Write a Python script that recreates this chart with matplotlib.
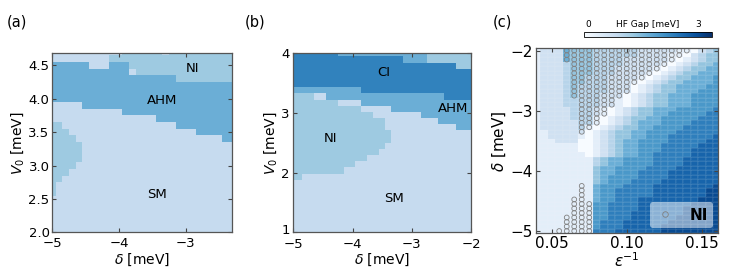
import numpy as np
import matplotlib
matplotlib.use('Agg')
import matplotlib.pyplot as plt
import matplotlib.transforms as mtrans
from matplotlib.colors import ListedColormap, Normalize
from matplotlib.lines import Line2D

# ---------------- data ----------------
# phase codes: S = SM, N = NI, A = AHM, C = CI
phase_names = ['S', 'N', 'A', 'C']
phase_colors = ['#c6dbef', '#9ecae1', '#6baed6', '#3182bd']

# (a) delta = -5.0 .. -2.3 (step 0.1), V0 = 4.7 (top row) .. 2.0 (bottom row)
a_delta = np.linspace(-5.0, -2.3, 28)
a_V0 = np.linspace(2.0, 4.7, 28)
a_phase = [
    "SSSSSSSSSSSNNNNNNSNNNNNNNNNN",  # 4.7
    "SSSSSSSSSNNNNNNNNNNNNNNNNNNN",  # 4.6
    "AAAAAASSSAAANNNNNNNNNNNNNNNN",  # 4.5
    "AAAAAAAAAAAASNNNNNNNNNNNNNNN",  # 4.4
    "AAAAAAAAAAAAAAAAAAANNNNNNNNN",  # 4.3
    "AAAAAAAAAAAAAAAAAAAAAAAAAAAA",  # 4.2
    "AAAAAAAAAAAAAAAAAAAAAAAAAAAA",  # 4.1
    "AAAAAAAAAAAAAAAAAAAAAAAAAAAA",  # 4.0
    "SSSSSAAAAAAAAAAAAAAAAAAAAAAA",  # 3.9
    "SSSSSSSSSSSAAAAAAAAAAAAAAAAA",  # 3.8
    "SSSSSSSSSSSSSSSSAAAAAAAAAAAA",  # 3.7
    "NNSSSSSSSSSSSSSSSSSAAAAAAAAA",  # 3.6
    "NNNSSSSSSSSSSSSSSSSSSSAAAAAA",  # 3.5
    "NNNNSSSSSSSSSSSSSSSSSSSSSSAA",  # 3.4
    "NNNNNSSSSSSSSSSSSSSSSSSSSSSS",  # 3.3
    "NNNNNSSSSSSSSSSSSSSSSSSSSSSS",  # 3.2
    "NNNNNSSSSSSSSSSSSSSSSSSSSSSS",  # 3.1
    "NNNNSSSSSSSSSSSSSSSSSSSSSSSS",  # 3.0
    "NNNSSSSSSSSSSSSSSSSSSSSSSSSS",  # 2.9
    "NNSSSSSSSSSSSSSSSSSSSSSSSSSS",  # 2.8
    "NSSSSSSSSSSSSSSSSSSSSSSSSSSS",  # 2.7
    "NSSSSSSSSSSSSSSSSSSSSSSSSSSS",  # 2.6
    "SSSSSSSSSSSSSSSSSSSSSSSSSSSS",  # 2.5
    "SSSSSSSSSSSSSSSSSSSSSSSSSSSS",  # 2.4
    "SSSSSSSSSSSSSSSSSSSSSSSSSSSS",  # 2.3
    "SSSSSSSSSSSSSSSSSSSSSSSSSSSS",  # 2.2
    "SSSSSSSSSSSSSSSSSSSSSSSSSSSS",  # 2.1
    "SSSSSSSSSSSSSSSSSSSSSSSSSSSS",  # 2.0
]
a_labels = [('NI', -2.89, 4.46), ('AHM', -3.36, 3.97), ('SM', -3.43, 2.56)]

# (b) delta = -5.0 .. -2.0 (31 points), V0 = 4.0 (top row) .. 1.0 (30 rows)
b_delta = np.linspace(-5.0, -2.0, 31)
b_V0 = np.linspace(1.0, 4.0, 30)
b_phase = [
    "CCCCCCCCAAAAAAAAAAAAAAANNNNNNNN",
    "CCCCCCCCCCCCCCCCCCCAAAANNNNNNNN",
    "CCCCCCCCCCCCCCCCCCCCCCCCCCCCNNN",
    "CCCCCCCCCCCCCCCCCCCCCCCCCCCCCCC",
    "CCCCCCCCCCCCCCCCCCCCCCCCCCCCCCC",
    "CCCCCCCCCCCCCCCCCCCCCCCCCCCCCCC",
    "AAAAAAAAAAAACCCCCCCCCCCCCCCCCCC",
    "NNNNSSAAAAAAAAAAAAAAAAAAAACCCCC",
    "NNNNNNNNSSSSAAAAAAAAAAAAAAAAAAA",
    "NNNNNNNNNNNNSSSSSAAAAAAAAAAAAAA",
    "NNNNNNNNNNNNNNSSSSSSSSAAAAAAAAA",
    "NNNNNNNNNNNNNNNNSSSSSSSSSAAAAAA",
    "NNNNNNNNNNNNNNNNSSSSSSSSSSSSAAA",
    "NNNNNNNNNNNNNNNNNSSSSSSSSSSSSSS",
    "NNNNNNNNNNNNNNNNNSSSSSSSSSSSSSS",
    "NNNNNNNNNNNNNNNNSSSSSSSSSSSSSSS",
    "NNNNNNNNNNNNNNNSSSSSSSSSSSSSSSS",
    "NNNNNNNNNNNNNSSSSSSSSSSSSSSSSSS",
    "NNNNNNNNNNNSSSSSSSSSSSSSSSSSSSS",
    "NNNNNNNNNSSSSSSSSSSSSSSSSSSSSSS",
    "NNSSSSSSSSSSSSSSSSSSSSSSSSSSSSS",
    "SSSSSSSSSSSSSSSSSSSSSSSSSSSSSSS",
    "SSSSSSSSSSSSSSSSSSSSSSSSSSSSSSS",
    "SSSSSSSSSSSSSSSSSSSSSSSSSSSSSSS",
    "SSSSSSSSSSSSSSSSSSSSSSSSSSSSSSS",
    "SSSSSSSSSSSSSSSSSSSSSSSSSSSSSSS",
    "SSSSSSSSSSSSSSSSSSSSSSSSSSSSSSS",
    "SSSSSSSSSSSSSSSSSSSSSSSSSSSSSSS",
    "SSSSSSSSSSSSSSSSSSSSSSSSSSSSSSS",
    "SSSSSSSSSSSSSSSSSSSSSSSSSSSSSSS",
]
b_labels = [('CI', -3.48, 3.67), ('AHM', -2.30, 3.08), ('NI', -4.38, 2.57), ('SM', -3.30, 1.56)]

# (c) HF gap, digits in units of 0.3 meV
# eps^-1 = 0.040 .. 0.160 (step 0.005), delta = -2.0 (top row) .. -5.0 (step 0.075)
c_eps = np.linspace(0.04, 0.16, 25)
c_delta = np.linspace(-5.0, -2.0, 41)
c_gap = [
    "1222544433333322222110234",
    "1222544433333322221102344",
    "1222544433332222221012344",
    "1222344433332222210123445",
    "1222344433322222101234455",
    "1222344433322221012344555",
    "1222344333222210123445556",
    "1222344333222101234455556",
    "1222343333222012344555566",
    "1222343333222012344555666",
    "1222343332220123445556666",
    "1222333332210123445556666",
    "1222333332210123445556666",
    "1222233321012344555666667",
    "1222233321012344556666677",
    "1222233310123445566666777",
    "1222223310123455566667777",
    "1222223101234455666677777",
    "1122222012344556666777777",
    "1122221012344556667777778",
    "1112220012345566667777788",
    "1111110012345566677777888",
    "1111110012345566677778888",
    "1111111012345566777778888",
    "1111111134556666777788888",
    "1111111134556666777788888",
    "1111111145566667777888888",
    "1111111145566677778888888",
    "1111111145666677778888888",
    "1111111145666777788888888",
    "1111111156667777888888889",
    "1111111156677777888888899",
    "1111111156677777888888899",
    "1111111156677788888888999",
    "1111111166777788888889999",
    "1111111166777788888899999",
    "1111111166777888888899999",
    "1111111166777888888999999",
    "1111111167778888889999999",
    "1111111167778888899999999",
    "1111111177788888899999999",
]
gap_unit = 0.3
# NI points: (row index from top, first column, last column)
c_ni = [
    (0, 4, 20), (1, 4, 19), (2, 4, 18),
    (3, 5, 17), (4, 5, 16), (5, 5, 15), (6, 5, 14), (7, 5, 13), (8, 5, 12),
    (9, 5, 12), (10, 5, 11),
    (11, 6, 10), (12, 6, 10), (13, 6, 9), (14, 6, 9), (15, 6, 8), (16, 6, 8),
    (17, 6, 7), (18, 6, 6),
    (30, 6, 6), (31, 6, 6), (32, 6, 6), (33, 5, 6), (34, 5, 7), (35, 5, 7),
    (36, 5, 7), (37, 4, 7), (38, 4, 7), (39, 4, 7), (40, 3, 7),
]

# ---------------- figure ----------------
plt.rcParams['font.family'] = 'DejaVu Sans'
fig = plt.figure(figsize=(7.31, 2.72), dpi=100)

phase_cmap = ListedColormap(phase_colors)


def grid_from(rows):
    z = np.array([[phase_names.index(ch) for ch in r] for r in rows])
    return z[::-1]


def style(ax, fs):
    ax.tick_params(direction='in', top=True, right=True, labelsize=fs,
                   length=3, width=0.8, color='#444444', pad=2)
    for s in ax.spines.values():
        s.set_color('#555555')
        s.set_linewidth(0.9)


ax1 = fig.add_axes([0.0716, 0.146, 0.2462, 0.658])
ax1.pcolormesh(a_delta, a_V0, grid_from(a_phase), cmap=phase_cmap,
               vmin=-0.5, vmax=3.5, shading='nearest')
ax1.set_xlim(-5.0, -2.3)
ax1.set_ylim(2.0, 4.68)
ax1.set_xticks([-5, -4, -3])
ax1.set_yticks([2.0, 2.5, 3.0, 3.5, 4.0, 4.5])
ax1.set_yticklabels(['2.0', '2.5', '3.0', '3.5', '4.0', '4.5'])
for t, x, y in a_labels:
    ax1.text(x, y, t, ha='center', va='center', fontsize=9.5)
ax1.set_xlabel(r'$\delta$ [meV]', fontsize=10, labelpad=1)
ax1.set_ylabel(r'$V_0$ [meV]', fontsize=10, labelpad=2)
style(ax1, 9.5)
ax1.tick_params(axis='x', pad=3.5)

ax2 = fig.add_axes([0.4012, 0.146, 0.2431, 0.658])
ax2.pcolormesh(b_delta, b_V0, grid_from(b_phase), cmap=phase_cmap,
               vmin=-0.5, vmax=3.5, shading='nearest')
ax2.set_xlim(-5.0, -2.0)
ax2.set_ylim(1.0, 4.0)
ax2.set_xticks([-5, -4, -3, -2])
ax2.set_yticks([1, 2, 3, 4])
for t, x, y in b_labels:
    ax2.text(x, y, t, ha='center', va='center', fontsize=9.5)
ax2.set_xlabel(r'$\delta$ [meV]', fontsize=10, labelpad=0.5)
ax2.set_ylabel(r'$V_0$ [meV]', fontsize=10, labelpad=2)
style(ax2, 9.5)
ax2.tick_params(axis='x', pad=4.2)
ax2.tick_params(axis='y', pad=2.5)
# lift the lowest y label a little so it clears the x label below it
lift = mtrans.ScaledTranslation(0, 2.5 / 72, fig.dpi_scale_trans)
lab0 = ax2.yaxis.get_major_ticks()[0].label1
lab0.set_transform(lab0.get_transform() + lift)

ax3 = fig.add_axes([0.7332, 0.1423, 0.2494, 0.6801])
gap = np.array([[int(ch) * gap_unit for ch in r] for r in c_gap])[::-1]
norm = Normalize(vmin=0, vmax=3.0)
ax3.pcolormesh(c_eps, c_delta, gap, cmap='Blues', norm=norm, shading='nearest',
               edgecolors=(1, 1, 1, 0.06), linewidth=0.3)
delta_top = c_delta[::-1]
nx, ny = [], []
for r, j0, j1 in c_ni:
    for j in range(j0, j1 + 1):
        nx.append(c_eps[j])
        ny.append(delta_top[r])
ax3.scatter(nx, ny, s=12, facecolors='none', edgecolors='#808080', linewidths=0.6)
ax3.set_xlim(0.0395, 0.161)
ax3.set_ylim(-5.0375, -1.9625)
ax3.set_xticks([0.05, 0.10, 0.15])
ax3.set_xticklabels(['0.05', '0.10', '0.15'])
ax3.set_yticks([-5, -4, -3, -2])
ax3.set_xlabel(r'$\varepsilon^{-1}$', fontsize=11, labelpad=0)
ax3.set_ylabel(r'$\delta$ [meV]', fontsize=11, labelpad=2)
style(ax3, 11)
h = Line2D([], [], marker='o', ls='none', mfc='none', mec='#808080', ms=4, mew=0.6)
leg = ax3.legend([h], ['NI'], loc='lower right', frameon=True,
                 prop={'weight': 'bold', 'size': 11}, borderpad=0.35,
                 handlelength=1.2, handletextpad=1.0, borderaxespad=0.35)
leg.get_frame().set_facecolor('white')
leg.get_frame().set_alpha(0.5)
leg.get_frame().set_edgecolor('none')

cax = fig.add_axes([0.799, 0.865, 0.175, 0.0185])
cb = matplotlib.colorbar.ColorbarBase(cax, cmap='Blues', norm=Normalize(0, 3.3),
                                      orientation='horizontal')
cb.set_ticks([])
cb.outline.set_linewidth(0.6)
cax.text(0.03, 1.5, '0', transform=cax.transAxes, ha='center', va='bottom', fontsize=6.5)
cax.text(0.5, 1.5, 'HF Gap [meV]', transform=cax.transAxes, ha='center', va='bottom', fontsize=6.5)
cax.text(0.89, 1.5, '3', transform=cax.transAxes, ha='center', va='bottom', fontsize=6.5)

fig.text(0.009, 0.92, '(a)', fontsize=10.5, va='center')
fig.text(0.335, 0.92, '(b)', fontsize=10.5, va='center')
fig.text(0.674, 0.92, '(c)', fontsize=10.5, va='center')

fig.savefig('out.png', dpi=100)
